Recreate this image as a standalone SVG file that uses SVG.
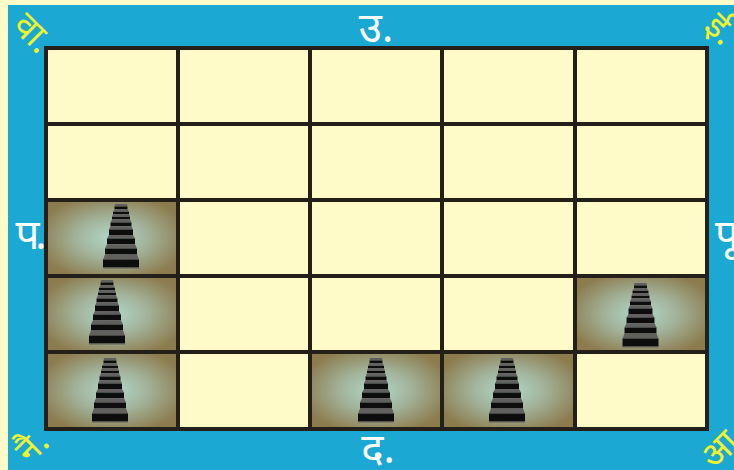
<svg xmlns="http://www.w3.org/2000/svg" width="734" height="470" viewBox="0 0 734 470">
<style>
.d{font-family:"Noto Sans","Noto Sans Devanagari","Lohit Devanagari","Liberation Sans",sans-serif;text-anchor:middle}
.w{fill:#fff;font-size:42px}
.n{letter-spacing:-4px}
.y{fill:#f2f22c;font-size:36px}
.c{fill:#fffbc8;stroke:#241f19;stroke-width:4}
.s{fill:url(#g);stroke:#241f19;stroke-width:4}
.t{fill:#625f5e}
.b{fill:#0f0f0f}
</style>
<defs>
<radialGradient id="g" cx="0.5" cy="0.5" r="0.58">
<stop offset="0" stop-color="#b0d8c8"/>
<stop offset="0.45" stop-color="#a3b49c"/>
<stop offset="1" stop-color="#8c7b4d"/>
</radialGradient>
<filter id="soft" x="-10%" y="-10%" width="120%" height="120%"><feGaussianBlur stdDeviation="0.45"/></filter>
<g id="stair" filter="url(#soft)">
<path class="t" d="M-6,0H6L6.500,2.500H-6.500Z"/><rect class="b" x="-6.500" y="2.500" width="13" height="2.800"/>
<path class="t" d="M-6.500,5.300H6.500L8,7.800H-8Z"/><rect class="b" x="-8" y="7.800" width="16" height="2.500"/>
<path class="t" d="M-8,10.300H8L9,12.800H-9Z"/><rect class="b" x="-9" y="12.800" width="18" height="2.500"/>
<path class="t" d="M-9,15.300H9L10.500,18.500H-10.500Z"/><rect class="b" x="-10.500" y="18.500" width="21" height="3.800"/>
<path class="t" d="M-10.500,22.300H10.500L12,25.500H-12Z"/><rect class="b" x="-12" y="25.500" width="24" height="5.500"/>
<path class="t" d="M-12,31H12L14,34.500H-14Z"/><rect class="b" x="-14" y="34.500" width="28" height="5.800"/>
<path class="t" d="M-14,40.300H14L16,44.500H-16Z"/><rect class="b" x="-16" y="44.500" width="32" height="6"/>
<path class="t" d="M-16,50.500H16L18,55.500H-18Z"/><rect class="b" x="-18" y="55.500" width="36" height="8"/><rect class="t" x="-18" y="63.500" width="36" height="1"/>
</g>
</defs>
<rect width="734" height="470" fill="#fffbc8"/>
<rect x="8" y="5" width="726" height="465" fill="#1ba9d3"/>
<g id="cells">
<rect class="c" x="46" y="48" width="132" height="76"/><rect class="c" x="178" y="48" width="132" height="76"/><rect class="c" x="310" y="48" width="132" height="76"/><rect class="c" x="442" y="48" width="133" height="76"/><rect class="c" x="575" y="48" width="132" height="76"/>
<rect class="c" x="46" y="124" width="132" height="76"/><rect class="c" x="178" y="124" width="132" height="76"/><rect class="c" x="310" y="124" width="132" height="76"/><rect class="c" x="442" y="124" width="133" height="76"/><rect class="c" x="575" y="124" width="132" height="76"/>
<rect class="s" x="46" y="200" width="132" height="76"/><rect class="c" x="178" y="200" width="132" height="76"/><rect class="c" x="310" y="200" width="132" height="76"/><rect class="c" x="442" y="200" width="133" height="76"/><rect class="c" x="575" y="200" width="132" height="76"/>
<rect class="s" x="46" y="276" width="132" height="76"/><rect class="c" x="178" y="276" width="132" height="76"/><rect class="c" x="310" y="276" width="132" height="76"/><rect class="c" x="442" y="276" width="133" height="76"/><rect class="s" x="575" y="276" width="132" height="76"/>
<rect class="s" x="46" y="352" width="132" height="77"/><rect class="c" x="178" y="352" width="132" height="77"/><rect class="s" x="310" y="352" width="132" height="77"/><rect class="s" x="442" y="352" width="133" height="77"/><rect class="c" x="575" y="352" width="132" height="77"/>
</g>
<g id="stairs">
<use href="#stair" x="121" y="204"/><use href="#stair" x="107" y="280"/><use href="#stair" x="110" y="358"/><use href="#stair" x="376" y="358"/><use href="#stair" x="507" y="358"/><use href="#stair" x="640.500" y="283"/>
</g>
<g id="labels">
<text class="d w" x="376" y="42">उ.</text>
<text class="d w" x="378" y="463">द.</text>
<text class="d w n" x="29" y="249">प.</text>
<text class="d w" x="727" y="249">पू</text>
<text class="d y" transform="translate(33,33) rotate(45)" x="0" y="12">वा.</text>
<text class="d y" transform="translate(721,29) rotate(45)" x="0" y="12">ई.</text>
<text class="d y" transform="translate(32,446) rotate(-45)" x="0" y="12">नै.</text>
<text class="d y" transform="translate(723,446) rotate(-45)" x="0" y="12">आ.</text>
</g>
</svg>
